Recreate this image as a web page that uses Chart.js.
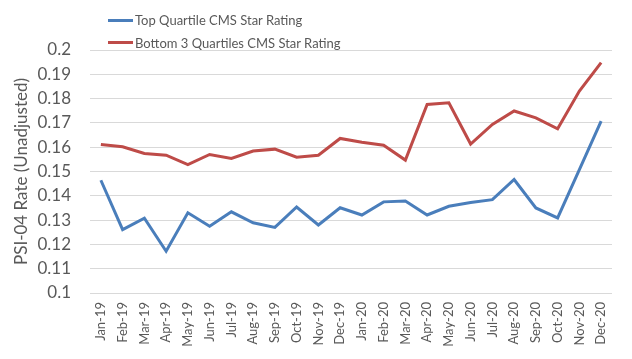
<!DOCTYPE html>
<html>
<head>
<meta charset="utf-8">
<script src="https://cdn.jsdelivr.net/npm/chart.js@4/dist/chart.umd.min.js"></script>
<style>
  html, body { margin: 0; padding: 0; background: #fff; }
  #wrap { position: relative; width: 632px; height: 359px; }
  #legend { position: absolute; left: 108px; top: 9px; font: 13px Lato, sans-serif; color: #595959; }
  #legend div { display: flex; align-items: center; height: 22.4px; }
  #legend span.sw { display: inline-block; width: 25px; height: 3px; margin-right: 2px; }
</style>
</head>
<body>
<div id="wrap">
  <canvas id="chart" width="632" height="359"></canvas>
  <div id="legend"></div>
</div>
<script>
const months = ["Jan-19", "Feb-19", "Mar-19", "Apr-19", "May-19", "Jun-19", "Jul-19", "Aug-19", "Sep-19", "Oct-19", "Nov-19", "Dec-19",
  "Jan-20", "Feb-20", "Mar-20", "Apr-20", "May-20", "Jun-20", "Jul-20", "Aug-20", "Sep-20", "Oct-20", "Nov-20", "Dec-20"];
const topQuartile = [0.1464, 0.1261, 0.1308, 0.1172, 0.1330, 0.1275, 0.1334, 0.1289, 0.1270, 0.1354, 0.1280, 0.1351,
  0.1321, 0.1375, 0.1379, 0.1321, 0.1357, 0.1372, 0.1384, 0.1467, 0.1350, 0.1309, 0.1508, 0.1707];
const bottomQuartiles = [0.1611, 0.1602, 0.1574, 0.1567, 0.1528, 0.1570, 0.1554, 0.1584, 0.1592, 0.1559, 0.1567, 0.1636,
  0.1620, 0.1608, 0.1547, 0.1776, 0.1783, 0.1613, 0.1694, 0.1749, 0.1721, 0.1676, 0.1831, 0.1948];
const seriesNames = ["Top Quartile CMS Star Rating", "Bottom 3 Quartiles CMS Star Rating"];
const seriesColors = ["#4a7ebb", "#be4b48"];

const font = "Lato, 'Open Sans', sans-serif";

const chart = new Chart(document.getElementById("chart"), {
  type: "line",
  data: {
    labels: months,
    datasets: [
      { label: seriesNames[0], data: topQuartile, borderColor: seriesColors[0], backgroundColor: seriesColors[0] },
      { label: seriesNames[1], data: bottomQuartiles, borderColor: seriesColors[1], backgroundColor: seriesColors[1] }
    ]
  },
  options: {
    responsive: false,
    animation: false,
    layout: { padding: { top: 50, right: 20, bottom: 0, left: 0 } },
    elements: { line: { borderWidth: 3, tension: 0 }, point: { radius: 0 } },
    plugins: { legend: { display: false }, tooltip: { enabled: false } },
    scales: {
      x: {
        offset: true,
        grid: { display: false, drawTicks: false },
        border: { display: false },
        ticks: { autoSkip: false, minRotation: 90, maxRotation: 90, padding: 9, color: "#595959", font: { family: font, size: 13 } },
        afterFit: (s) => { s.height = 66; }
      },
      y: {
        min: 0.1, max: 0.2,
        grid: { color: "#d9d9d9", lineWidth: 1, drawTicks: false },
        border: { display: false },
        ticks: {
          stepSize: 0.01, padding: 19, color: "#595959", font: { family: font, size: 17 },
          callback: (v) => String(Number(v.toFixed(2)))
        },
        title: { display: true, text: "PSI-04 Rate (Unadjusted)", color: "#595959", font: { family: font, size: 17 }, padding: { top: 11, bottom: 0 } },
        afterFit: (s) => { s.width = 90; }
      }
    }
  }
});

const legend = document.getElementById("legend");
chart.data.datasets.forEach((ds) => {
  const row = document.createElement("div");
  const sw = document.createElement("span");
  sw.className = "sw";
  sw.style.background = ds.borderColor;
  row.appendChild(sw);
  row.appendChild(document.createTextNode(ds.label));
  legend.appendChild(row);
});
</script>
</body>
</html>
